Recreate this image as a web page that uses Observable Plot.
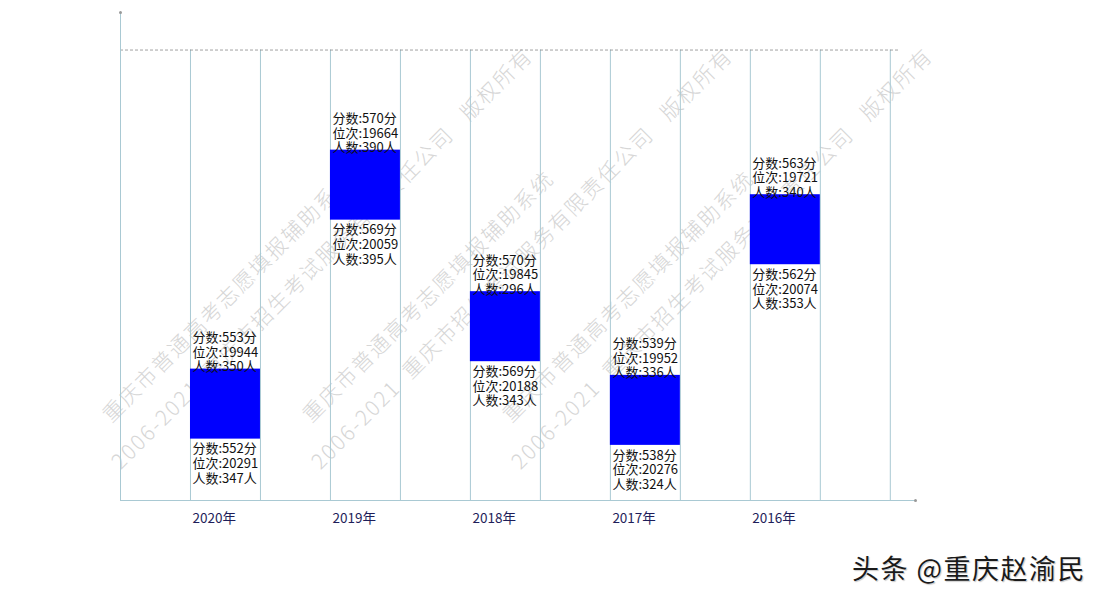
<!DOCTYPE html>
<html>
<head>
<meta charset="utf-8">
<script src="https://cdn.jsdelivr.net/npm/d3@7"></script>
<script src="https://cdn.jsdelivr.net/npm/@observablehq/plot@0.6"></script>
<style>
  html, body { margin: 0; padding: 0; background: #fff; }
  #wrap { position: relative; width: 1100px; height: 600px; overflow: hidden; font-family: "Noto Sans CJK SC", sans-serif; }
  #wm { position: absolute; left: 0; top: 0; width: 1100px; height: 600px; z-index: 0; pointer-events: none; }
  #wm span { position: absolute; white-space: pre; font-size: 21px; letter-spacing: 2px; color: #d6d6d6; font-weight: 300;
             transform-origin: 0 100%; transform: rotate(-45deg); line-height: 21px; }
  #chart { position: relative; z-index: 1; }
  #caption { position: relative; z-index: 1; height: 60px; line-height: 56px; text-align: right; padding-right: 14px;
             font-size: 27px; letter-spacing: 1.5px; color: #1a1a1a; text-shadow: 0 0 2px #fff, 1px 1px 1px #bbb; }
</style>
</head>
<body>
<div id="wrap">
  <div id="wm"></div>
  <div id="chart"></div>
  <div id="caption">头条 @重庆赵渝民</div>
</div>
<script>
// ---- data ----
const years      = ["2020年", "2019年", "2018年", "2017年", "2016年"];
const scoreHigh  = [553, 570, 570, 539, 563];
const rankHigh   = [19944, 19664, 19845, 19952, 19721];
const countHigh  = [350, 390, 296, 336, 340];
const scoreLow   = [552, 569, 569, 538, 562];
const rankLow    = [20291, 20059, 20188, 20276, 20074];
const countLow   = [347, 395, 343, 324, 353];

// scale / layout settings
const rankDomain = [19488, 20112];   // rank, top -> bottom
const topGuide   = 19536;            // dashed top guide line
const xDomain    = [-0.75, 4.93];
const gridSteps  = d3.range(-0.25, 5, 0.5);
const BAR_PX     = 70;

const table = years.map((year, i) => ({
  i, year,
  top: rankHigh[i],
  hiText: `分数:${scoreHigh[i]}分\n位次:${rankHigh[i]}\n人数:${countHigh[i]}人`,
  loText: `分数:${scoreLow[i]}分\n位次:${rankLow[i]}\n人数:${countLow[i]}人`
}));

// watermark (decorative background text)
const wmLine1 = "重庆市普通高考志愿填报辅助系统";
const wmLine2 = "2006-2021  重庆市招生考试服务有限责任公司   版权所有";
const wm = document.getElementById("wm");
for (let k = 0; k < 3; k++) {
  const a = document.createElement("span");
  a.textContent = wmLine1;
  a.style.left = (113 + 200 * k) + "px";
  a.style.top = (404) + "px";
  wm.appendChild(a);
  const b = document.createElement("span");
  b.textContent = wmLine2;
  b.style.left = (122 + 200 * k) + "px";
  b.style.top = (451) + "px";
  wm.appendChild(b);
}

const axisColor = "#a9c9d3";
const font = "'Noto Sans CJK SC', sans-serif";

const chart = Plot.plot({
  width: 1100,
  height: 540,
  marginTop: 12,
  marginBottom: 40,
  marginLeft: 120,
  marginRight: 185,
  style: { background: "transparent", fontFamily: font, overflow: "visible" },
  x: { domain: xDomain, axis: null },
  y: { domain: rankDomain, reverse: true, axis: null },
  marks: [
    // vertical grid lines
    Plot.ruleX(gridSteps, { y1: topGuide, y2: rankDomain[1], stroke: axisColor, strokeWidth: 1 }),
    // dashed top guide
    Plot.ruleY([topGuide], { x1: xDomain[0], x2: 4.82, stroke: "#8a8a8a", strokeDasharray: "3,2", strokeWidth: 0.8 }),
    // axes lines
    Plot.ruleX([xDomain[0]], { stroke: axisColor, strokeWidth: 1 }),
    Plot.ruleY([rankDomain[1]], { stroke: axisColor, strokeWidth: 1 }),
    Plot.dot([[xDomain[0], rankDomain[0]], [xDomain[1], rankDomain[1]]], { x: d => d[0], y: d => d[1], r: 1.5, fill: "#999", stroke: null }),
    // bars
    Plot.rect(table, { x1: d => d.i - 0.25, x2: d => d.i + 0.25, y1: "top", y2: "top", insetBottom: -BAR_PX, fill: "#0000ff" }),
    // labels above
    Plot.text(table, { x: d => d.i - 0.25, y: "top", text: "hiText", textAnchor: "start", lineAnchor: "bottom",
      dx: 2, dy: 2, fontSize: 13, lineHeight: 1.12, fill: "#111" }),
    // labels below
    Plot.text(table, { x: d => d.i - 0.25, y: "top", text: "loText", textAnchor: "start", lineAnchor: "top",
      dx: 2, dy: BAR_PX + 4, fontSize: 13, lineHeight: 1.12, fill: "#111" }),
    // year labels
    Plot.text(table, { x: d => d.i - 0.25, y: rankDomain[1], text: "year", textAnchor: "start", dx: 2, dy: 18,
      fontSize: 13.5, fill: "#1e1e5a", style: "letter-spacing:0.6px" })
  ]
});
document.getElementById("chart").appendChild(chart);
</script>
</body>
</html>
